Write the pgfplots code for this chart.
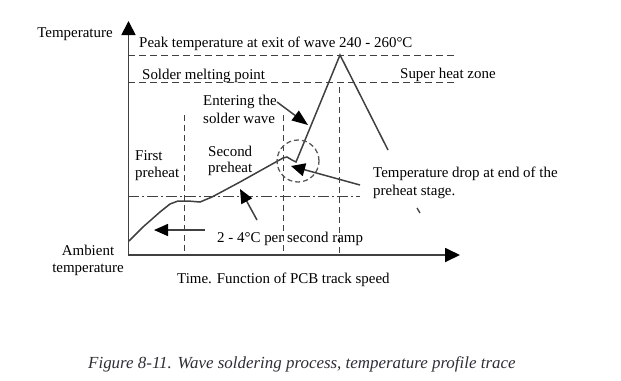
\documentclass[border=0pt]{standalone}
\usepackage{fontspec}
\setmainfont{Liberation Serif}
\usepackage{pgfplots}
\pgfplotsset{compat=1.18}
\usetikzlibrary{arrows.meta}
\definecolor{ln}{HTML}{404040}
\definecolor{cap}{HTML}{2E2E36}
\tikzset{lab/.style={font=\fontsize{15}{17}\selectfont, inner sep=0pt, text=black, text height=10.5bp, text depth=3.5bp, yshift=-1.5bp}}
\begin{document}
\begin{tikzpicture}
\begin{axis}[x=1bp, y=1bp, xmin=0, xmax=621, ymin=0, ymax=380, y dir=reverse,
  hide axis, clip=false]
\addplot[draw=none, forget plot] coordinates {(0,0) (621,380)};
% axes
\addplot[line width=1.8bp, color=ln, -{Triangle[length=14bp,width=14bp,color=black]}] coordinates {(128.5,256) (128.5,21)};
\addplot[line width=1.8bp, color=ln, -{Triangle[length=15bp,width=14bp,color=black]}] coordinates {(128,255) (460,255)};
% horizontal dashed levels
\addplot[line width=1.2bp, color=ln, dash pattern=on 7bp off 4bp] coordinates {(128,55.7) (455,55.7)};
\addplot[line width=1.2bp, color=ln, dash pattern=on 7bp off 4bp] coordinates {(128,82.7) (458,82.7)};
\addplot[line width=1.2bp, color=ln, dash pattern=on 11bp off 3bp on 2bp off 3bp] coordinates {(128,196.7) (360,196.7)};
% vertical dashed
\addplot[line width=1.1bp, color=ln, dash pattern=on 6bp off 4bp] coordinates {(184.5,115) (184.5,255)};
\addplot[line width=1.1bp, color=ln, dash pattern=on 6bp off 4bp] coordinates {(283.5,115) (283.5,255)};
\addplot[line width=1.1bp, color=ln, dash pattern=on 6bp off 4bp] coordinates {(339.5,87) (339.5,255)};
% profile curve
\addplot[line width=1.5bp, color=ln] coordinates {
(129,241) (143,227) (160,212) (170,204) (178,201) (188,201) (200,202)
(212,197) (240,182) (283,158) (287,157) (292,160) (296,162) (340,55) (388,150)};
\addplot[line width=1.3bp, color=ln] coordinates {(417,208) (420,213)};
% dashed circle
\addplot[only marks, mark=o, mark size=21bp, mark options={line width=1.3bp, color=black!65, dash pattern=on 5bp off 3bp}] coordinates {(298,161)};
% annotation arrows
\addplot[line width=1.5bp, color=ln, -{Triangle[length=16bp,width=12bp,color=black]}] coordinates {(277,102) (308,125)};
\addplot[line width=1.5bp, color=ln, -{Triangle[length=14bp,width=13bp,color=black]}] coordinates {(360,185) (291,166)};
\addplot[line width=1.5bp, color=ln, -{Triangle[length=14bp,width=12bp,color=black]}] coordinates {(257,220) (240,189)};
\addplot[line width=1.5bp, color=ln, -{Triangle[length=14bp,width=12bp,color=black]}] coordinates {(205,230) (154,230)};
% texts
\node[lab, anchor=center] at (axis cs:75,32) {Temperature};
\node[lab, anchor=west] at (axis cs:139,42) {Peak temperature at exit of wave 240 - 260°C};
\node[lab, anchor=west] at (axis cs:142,74) {Solder melting point};
\node[lab, anchor=west] at (axis cs:400,73) {Super heat zone};
\node[lab, anchor=west] at (axis cs:203,100) {Entering the};
\node[lab, anchor=west] at (axis cs:203,118) {solder wave};
\node[lab, anchor=west] at (axis cs:135,155) {First};
\node[lab, anchor=west] at (axis cs:135,172) {preheat};
\node[lab, anchor=west] at (axis cs:208,151) {Second};
\node[lab, anchor=west] at (axis cs:208,167) {preheat};
\node[lab, anchor=west] at (axis cs:217,237) {2 - 4°C per second ramp};
\node[lab, anchor=center] at (axis cs:88,250) {Ambient};
\node[lab, anchor=center] at (axis cs:88,267) {temperature};
\node[lab, anchor=west] at (axis cs:177,278) {Time. Function of PCB track speed};
\node[lab, anchor=west] at (axis cs:373,172) {Temperature drop at end of the};
\node[lab, anchor=west] at (axis cs:373,190) {preheat stage.};
\node[lab, anchor=west, text=cap, font=\fontsize{17}{19}\selectfont\itshape] at (axis cs:88,363) {Figure 8-11. Wave soldering process, temperature profile trace};
\end{axis}
\end{tikzpicture}
\end{document}
